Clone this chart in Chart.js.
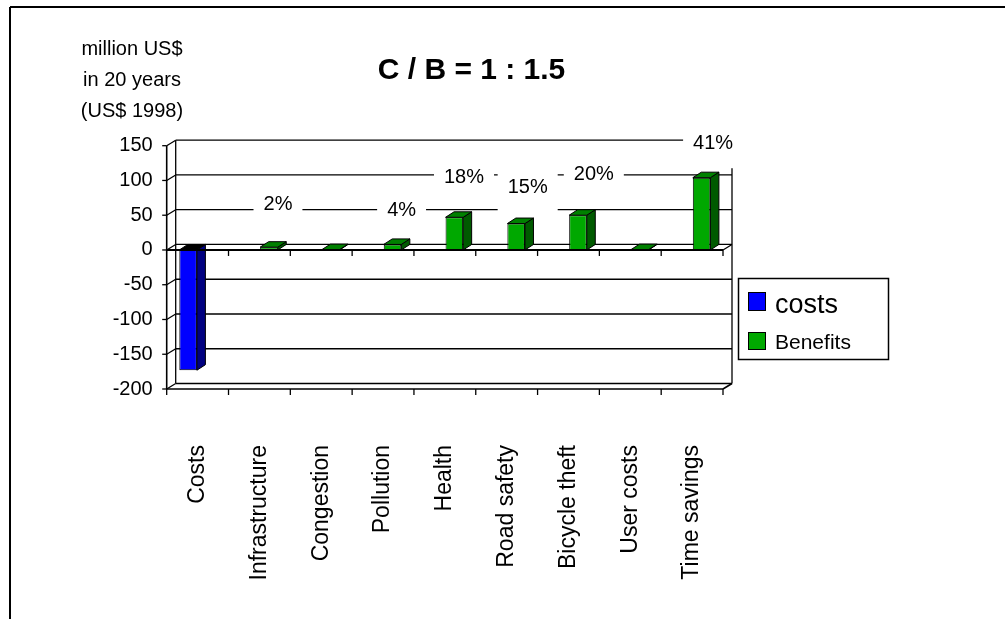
<!DOCTYPE html>
<html>
<head>
<meta charset="utf-8">
<script src="https://cdn.jsdelivr.net/npm/chart.js@4"></script>
<style>
html,body{margin:0;padding:0;background:#fff;}
#wrap{width:1005px;height:619px;position:relative;overflow:hidden;}
canvas{display:block;}
</style>
</head>
<body>
<div id="wrap"><canvas id="c" width="1005" height="619"></canvas></div>
<script>
// ---- data ----
const categories = ['Costs','Infrastructure','Congestion','Pollution','Health','Road safety','Bicycle theft','User costs','Time savings'];
const costsValues = [-173, null, null, null, null, null, null, null, null];
const benefitsValues = [null, 4, 0.5, 8, 47, 38, 50, 0.5, 104];
const yTicks = [150, 100, 50, 0, -50, -100, -150, -200];
const shareLabels = ['2%', '4%', '18%', '15%', '20%', '41%'];
const shareCategories = [1, 3, 4, 5, 6, 8];
const titleText = 'C / B = 1 : 1.5';
const yTitleLines = ['million US$', 'in 20 years', '(US$ 1998)'];
const seriesNames = ['costs', 'Benefits'];

// ---- placement (not data) ----
const shareAnchorY = [67, 58, 106, 92, 110, 155]; // in axis units
const shareShift = [0.30, 0.30, 0.31, 0.34, 0.41, 0.34]; // fraction of a category
const FONT = "'Liberation Sans', Arial, Helvetica, sans-serif";
const WALL_DX = 9, WALL_DY = -5.5;
const BAR_DX = 8.5, BAR_DY = -5.5;

const styles = [
  {front:'#0000FF', side:'#000080', top:'#000000'},
  {front:'#00A800', side:'#005A00', top:'#008000'}
];

function line(ctx, x1, y1, x2, y2) {
  ctx.beginPath(); ctx.moveTo(x1, y1); ctx.lineTo(x2, y2); ctx.stroke();
}

const frame3d = {
  id: 'frame3d',
  beforeDatasetsDraw(chart) {
    const {ctx, chartArea: a, scales: {x, y}} = chart;
    const catW = (a.right - a.left) / categories.length;
    const yTop = y.getPixelForValue(yTicks[0]);
    const yBot = y.getPixelForValue(yTicks[yTicks.length - 1]);
    ctx.save();
    ctx.strokeStyle = '#000';
    // outer frame
    ctx.lineWidth = 2;
    line(ctx, 10, 7, 1005, 7);
    line(ctx, 10, 7, 10, 619);
    // back wall grid lines
    ctx.lineWidth = 1.3;
    yTicks.forEach(v => {
      const yy = y.getPixelForValue(v);
      line(ctx, a.left + WALL_DX, yy + WALL_DY, a.right + WALL_DX, yy + WALL_DY);
      line(ctx, a.left, yy, a.left + WALL_DX, yy + WALL_DY);
      line(ctx, a.left - 4.5, yy, a.left, yy);
    });
    // wall edges
    line(ctx, a.left + WALL_DX, yTop + WALL_DY, a.left + WALL_DX, yBot + WALL_DY);
    line(ctx, a.right + WALL_DX, yTop + WALL_DY, a.right + WALL_DX, yBot + WALL_DY);
    // floor
    ctx.lineWidth = 1.6;
    line(ctx, a.left, yBot, a.right, yBot);
    line(ctx, a.right, yBot, a.right + WALL_DX, yBot + WALL_DY);
    ctx.lineWidth = 1.3;
    for (let i = 0; i <= categories.length; i++) {
      const xx = a.left + i * catW;
      line(ctx, xx, yBot, xx, yBot + 6);
    }
    // front value axis
    ctx.lineWidth = 1.6;
    line(ctx, a.left, yTop, a.left, yBot);

    // share labels with white boxes
    ctx.font = '20px ' + FONT;
    ctx.textAlign = 'center';
    ctx.textBaseline = 'middle';
    shareLabels.forEach((t, k) => {
      const cx = x.getPixelForValue(shareCategories[k]) + shareShift[k] * catW;
      const cy = y.getPixelForValue(shareAnchorY[k]);
      const w = ctx.measureText(t).width;
      ctx.fillStyle = '#fff';
      ctx.fillRect(cx - w / 2 - 10, cy - 26, w + 20, 52);
      ctx.fillStyle = '#000';
      ctx.fillText(t, cx, cy + 1);
    });

    // title
    ctx.font = 'bold 30px ' + FONT;
    ctx.fillText(titleText, 471.5, 71);
    // value axis title
    ctx.font = '20px ' + FONT;
    yTitleLines.forEach((t, i) => ctx.fillText(t, 132, 49 + i * 31.3));

    // legend
    ctx.lineWidth = 1.5;
    ctx.strokeRect(738.5, 278.5, 150, 81);
    const legendRows = [{y: 292, h: 19, font: '27px ', base: 313}, {y: 332, h: 18, font: '21px ', base: 348.5}];
    chart.data.datasets.forEach((ds, i) => {
      const r = legendRows[i];
      ctx.fillStyle = styles[i].front;
      ctx.fillRect(748, r.y, 18, r.h);
      ctx.lineWidth = 1;
      ctx.strokeRect(748.5, r.y + 0.5, 17, r.h - 1);
      ctx.fillStyle = '#000';
      ctx.textAlign = 'left';
      ctx.textBaseline = 'alphabetic';
      ctx.font = r.font + FONT;
      ctx.fillText(ds.label, 775, r.base);
    });
    ctx.restore();
  },
  afterDatasetsDraw(chart) {
    const {ctx, chartArea: a, scales: {x, y}} = chart;
    const catW = (a.right - a.left) / categories.length;
    ctx.save();
    ctx.strokeStyle = '#000';
    ctx.lineWidth = 1;
    chart.data.datasets.forEach((ds, di) => {
      const meta = chart.getDatasetMeta(di);
      meta.data.forEach((el, idx) => {
        if (ds.data[idx] === null || ds.data[idx] === undefined) return;
        const L = el.x - el.width / 2, R = el.x + el.width / 2;
        const T = Math.min(el.y, el.base), B = Math.max(el.y, el.base);
        // side face
        ctx.fillStyle = styles[di].side;
        ctx.beginPath();
        ctx.moveTo(R, T); ctx.lineTo(R + BAR_DX, T + BAR_DY);
        ctx.lineTo(R + BAR_DX, B + BAR_DY); ctx.lineTo(R, B); ctx.closePath();
        ctx.fill(); ctx.stroke();
        // top face
        ctx.fillStyle = styles[di].top;
        ctx.beginPath();
        ctx.moveTo(L, T); ctx.lineTo(R, T);
        ctx.lineTo(R + BAR_DX, T + BAR_DY); ctx.lineTo(L + BAR_DX, T + BAR_DY); ctx.closePath();
        ctx.fill(); ctx.stroke();
      });
    });
    // zero line (category axis) with ticks
    const y0 = y.getPixelForValue(0);
    ctx.lineWidth = 2;
    line(ctx, a.left, y0, a.right, y0);
    ctx.lineWidth = 1.3;
    line(ctx, a.right, y0, a.right + WALL_DX, y0 + WALL_DY);
    for (let i = 1; i <= categories.length; i++) {
      const xx = a.left + i * catW;
      line(ctx, xx, y0, xx, y0 + 6);
    }
    ctx.restore();
  }
};

new Chart(document.getElementById('c'), {
  type: 'bar',
  data: {
    labels: categories,
    datasets: [
      {label: seriesNames[0], data: costsValues, backgroundColor: styles[0].front, borderColor: '#000', borderWidth: 1,
       categoryPercentage: 0.615, barPercentage: 0.926},
      {label: seriesNames[1], data: benefitsValues, backgroundColor: styles[1].front, borderColor: '#000', borderWidth: 1,
       categoryPercentage: 0.615, barPercentage: 0.926}
    ]
  },
  options: {
    responsive: false,
    animation: false,
    layout: {padding: {top: 145.7, left: 0, right: 282, bottom: 0}},
    plugins: {legend: {display: false}, tooltip: {enabled: false}, title: {display: false}},
    scales: {
      x: {
        grid: {display: false, drawTicks: false},
        border: {display: false},
        ticks: {autoSkip: false, maxRotation: 90, minRotation: 90, padding: 56, color: '#000',
                font: {family: FONT, size: 23}},
        afterFit(s) { s.height = 230; }
      },
      y: {
        min: -200, max: 150,
        grid: {display: false, drawTicks: false},
        border: {display: false},
        ticks: {stepSize: 50, padding: 14, color: '#000', font: {family: FONT, size: 20}},
        afterBuildTicks(s) { s.ticks = yTicks.map(v => ({value: v})); },
        afterFit(s) { s.width = 166.7; }
      }
    }
  },
  plugins: [frame3d]
});
</script>
</body>
</html>
